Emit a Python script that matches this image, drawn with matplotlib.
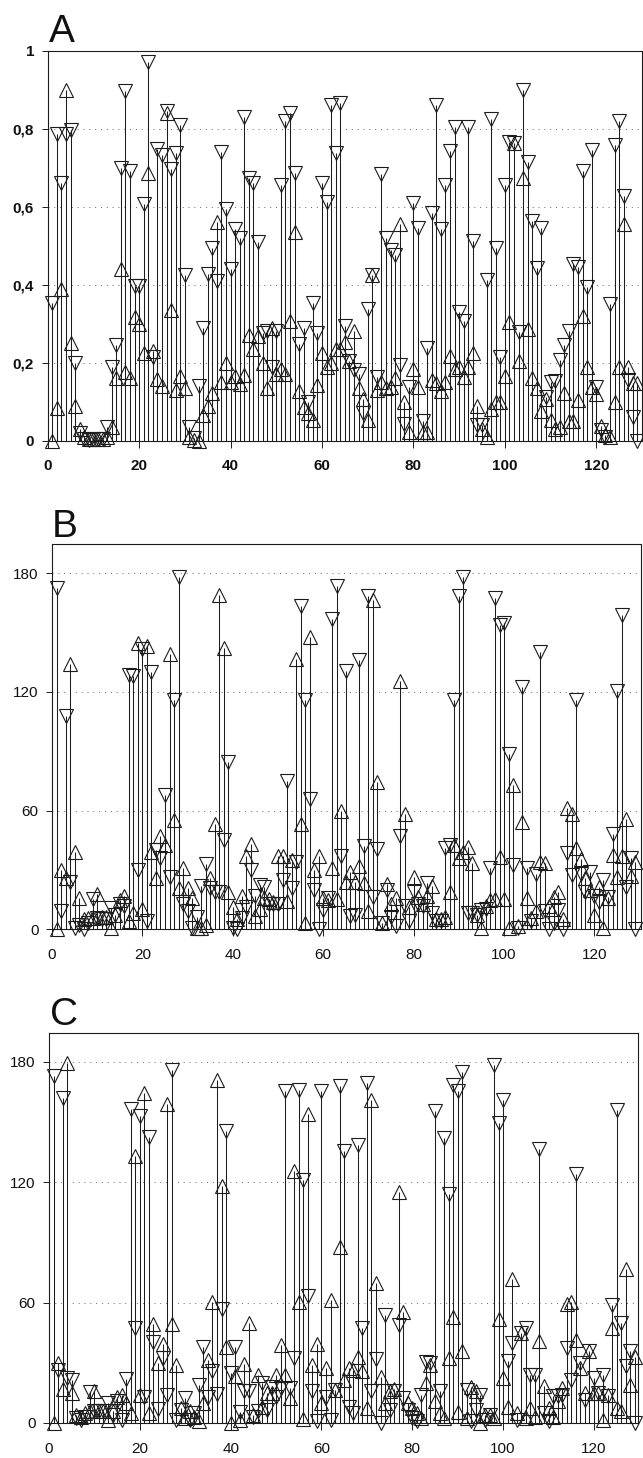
import matplotlib
matplotlib.use("Agg")
import matplotlib.pyplot as plt
import numpy as np

plt.rcParams['font.family'] = ['Liberation Sans', 'DejaVu Sans']

W, H = 643, 1458

a_down = [.352,.786,.66,.785,.795,.20,.02,.005,.003,.005,.005,.005,.036,.19,.245,.70,.897,.69,.397,.397,
          .607,.97,.215,.748,.732,.846,.697,.738,.81,.425,.036,.008,.14,.29,.427,.493,.41,.74,.593,.44,
          .542,.52,.83,.672,.66,.508,.275,.28,.19,.28,.655,.82,.84,.687,.248,.29,.10,.352,.275,.66,
          .613,.86,.737,.865,.294,.205,.18,.17,.07,.337,.425,.164,.684,.52,.488,.476,.194,.044,.138,.608,
          .546,.05,.238,.583,.86,.542,.656,.743,.805,.33,.307,.803,.513,.04,.04,.412,.825,.493,.215,.656,
          .765,.764,.278,.90,.713,.563,.442,.546,.113,.15,.153,.207,.245,.28,.453,.446,.692,.395,.745,.138,
          .027,.01,.35,.758,.82,.626,.155,.06,0]
a_up = [0,.085,.39,.90,.25,.09,.03,.01,.005,.005,.005,.005,.01,.034,.16,.44,.177,.16,.318,.30,
        .224,.685,.23,.158,.14,.84,.335,.13,.166,.135,.01,.003,0,.066,.09,.123,.56,.15,.20,.15,
        .165,.145,.168,.27,.236,.268,.20,.134,.288,.172,.185,.172,.307,.535,.128,.087,.07,.053,.143,.226,
        .19,.20,.234,.235,.254,.205,.282,.134,.108,.053,.425,.13,.15,.134,.138,.16,.555,.10,.023,.185,
        .138,.023,.023,.155,.147,.128,.15,.217,.185,.19,.164,.19,.224,.09,.03,.01,.08,.10,.10,.166,
        .305,.764,.204,.674,.285,.16,.134,.077,.108,.053,.03,.036,.123,.05,.05,.104,.32,.19,.138,.12,
        .037,.015,.01,.10,.19,.555,.19,.147,.147]

b_down = [172.5,9,108,24,.5,2,0,3,15.5,5.5,5,5,11,7,13,12,128.5,128,30,141.5,
          4,130,40,36,68,26.5,116,178,13,9,.5,6,22,33,21,19,19,45,84.5,.5,
          0,5.5,11.5,30,17,22.5,21.5,13,13,13,25,75,21,34,163.5,116,66,20,0,10,
          16,157,173.5,37,130.5,6.5,7,136,42,168.5,16.5,40.5,3,20,6,1.5,47,12,4,19,
          13,12,23.5,8,4,4,41,42.5,116,168.5,178,8,8,7,10,10.5,31,167.5,154,155,
          88.5,32.5,.5,122.5,31,4,28,140,9,0,3,10,0,38.5,27.5,116,28,19,29,17,
          14,25,16.5,48,120.5,159,21.5,36,0]
b_up = [0,30,26,134,39,16,5,5.5,5.5,18,6,6,.5,7,15,17,4,8,145,10.5,
        143,39,26,47,42.5,139,55.5,21,31,21,16,.5,.5,2,26,53,169,142,19,11.5,
        5,17,37,43,6.5,10.5,16,15.5,14,37,37,14.5,35,136.5,53,3,148,30,37,16,
        15,31,15.5,60,24,29,24,32,23.5,9.5,166.5,74.5,3,23,13,16,125.5,58.5,11.5,26.5,
        16.5,13,17,22,5,5,6,19,42.5,36,39,41.5,33.5,7,.5,12,15,15.5,36.5,15.5,
        .5,73,1.5,54.5,16,5.5,9.5,34,33.5,12,16.5,19,5,61.5,58.5,41,35.5,26,20,7,
        21.5,.5,16,37.5,26.5,37,56,27,34]

c_down = [173,26.5,162,22.5,21.5,2.5,1.5,3,15.5,6,6,6,10,4,11,1.5,22,156.5,47.5,153,
          13,142.5,40.5,7,32.5,14,176,1.5,6.5,12.5,1.5,5,19,38,13,26,14.5,57,145.5,25,
          38,5.5,16,16,3,6,20,6.5,18,13,17.5,165.5,17.5,32.5,166,121,63.5,16,1,165.5,
          13,1.5,16.5,168,135.5,8,5,138.5,47.5,169.5,16,32,0,54,6.5,16,49,12.5,6.5,2.5,
          1,14,30.5,30,155.5,16,142,114,168.5,165.5,175,16.5,1,6.5,14,1.5,4,178.5,149.5,161,
          31,40,1.5,45,47.5,24,24,136.5,5,1,13.5,13.5,14,37.5,21.5,124,30,11.5,36,22.5,
          15,24,13.5,59,156,50,28.5,36,0]
c_up = [0,30,17,179.5,15,4,3,5,6,16,6,6,1.5,6,13,14,10,5,133,14,
        164.5,5,49.5,30,39.5,159,49.5,29,7.5,2.5,6,3,1,10,31.5,60.5,171,118,38,0,
        23.5,1.5,29.5,50,4,24,8,15,15,24,39,24,12.5,125.5,60.5,2,154,29,39.5,10,
        27.5,61.5,16.5,88,21.5,27.5,26.5,33,26,7.5,161,70,23,10,16,17,115,55.5,10,7.5,
        5,2.5,20,29,11,5,2.5,32.5,53,5.5,36,2.5,18,16,0,4,4,2.5,52,22.5,
        8,72,5,45,2.5,7.5,3,41,18.5,7.5,3,11,17.5,59.5,60.5,41.5,27.5,15,36,15,
        15,1.5,14,47.5,7.5,6,77,19,33]

panels = ['A', 'B', 'C']
y_ticks = [[0, .2, .4, .6, .8, 1], [0, 60, 120, 180], [0, 60, 120, 180]]
y_labels = [['0', '0,2', '0,4', '0,6', '0,8', '1'], ['0', '60', '120', '180'], ['0', '60', '120', '180']]
x_ticks = [0, 20, 40, 60, 80, 100, 120]

series = [(a_up, a_down), (b_up, b_down), (c_up, c_down)]
# pixel box: left, right, top, bottom
boxes = [(47.7, 642, 50.5, 440.7), (52, 641, 544, 929.3), (49, 638, 1032.7, 1423)]
xlims = [(0, 130.0), (0.07, 130.3), (0.29, 129.7)]
ylims = [(0, 1), (0, 194.8), (0, 194.6)]
letters_xy = [(49, 42), (52, 537), (50, 1025)]

ink = '#1c1c1c'
fig = plt.figure(figsize=(W / 100, H / 100), dpi=100, facecolor='white')

for k in range(3):
    l, r, t, b = boxes[k]
    ax = fig.add_axes([l / W, 1 - b / H, (r - l) / W, (b - t) / H])
    up = np.array(series[k][0], float)
    down = np.array(series[k][1], float)
    x = np.arange(1, len(up) + 1)
    ax.vlines(x, 0, np.maximum(up, down), color=ink, lw=0.75, zorder=2, clip_on=False)
    ax.plot(x, up, ls='none', marker='^', ms=9.8, mfc='none', mec=ink, mew=0.8, clip_on=False, zorder=3)
    ax.plot(x, down, ls='none', marker='v', ms=9.8, mfc='none', mec=ink, mew=0.8, clip_on=False, zorder=3)
    ax.set_xlim(*xlims[k])
    ax.set_ylim(*ylims[k])
    ax.set_xticks(x_ticks)
    ax.set_yticks(y_ticks[k])
    ax.set_yticklabels(y_labels[k])
    ax.yaxis.grid(True, ls=(0, (1, 5)), lw=0.7, color='#666666', zorder=1)
    ax.set_axisbelow(True)
    ax.tick_params(axis='y', length=4.3, width=0.7, pad=5.5, labelsize=11, color=ink, labelcolor='#111111')
    ax.tick_params(axis='x', length=5, width=0.7, pad=8.5, labelsize=11, color=ink, labelcolor='#111111')
    for lab in ax.get_xticklabels() + ax.get_yticklabels():
        lab.set_fontweight('bold' if k == 0 else 'normal')
    for s in ax.spines.values():
        s.set_linewidth(0.8)
        s.set_color(ink)
    fig.text(letters_xy[k][0] / W, 1 - letters_xy[k][1] / H, panels[k], fontsize=28,
             color='#111111', ha='left', va='baseline')

fig.savefig('out.png', dpi=100)
